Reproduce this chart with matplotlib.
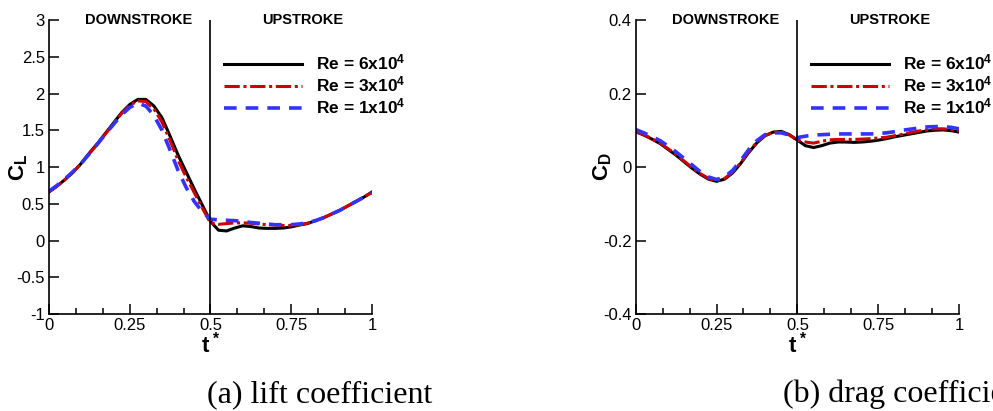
import matplotlib
matplotlib.use('Agg')
import matplotlib.pyplot as plt
import numpy as np
from matplotlib.ticker import MultipleLocator

plt.rcParams['font.family'] = ['Liberation Sans', 'DejaVu Sans']
plt.rcParams['mathtext.fontset'] = 'custom'
plt.rcParams['mathtext.rm'] = 'Liberation Sans:bold'
plt.rcParams['mathtext.it'] = 'Liberation Sans:bold'
plt.rcParams['mathtext.bf'] = 'Liberation Sans:bold'

# t* samples (fraction of the flapping cycle)
t = np.arange(41) * 0.025

# lift coefficient
cl_re6 = [0.66, 0.74, 0.83, 0.93, 1.05, 1.19, 1.32, 1.46, 1.60, 1.74,
          1.85, 1.92, 1.92, 1.83, 1.67, 1.42, 1.16, 0.93, 0.70, 0.48,
          0.26, 0.14, 0.13, 0.17, 0.20, 0.19, 0.17, 0.165, 0.165, 0.17,
          0.185, 0.21, 0.23, 0.27, 0.31, 0.36, 0.41, 0.47, 0.53, 0.59, 0.66]
cl_re3 = [0.66, 0.74, 0.83, 0.93, 1.05, 1.18, 1.31, 1.45, 1.59, 1.73,
          1.84, 1.90, 1.89, 1.79, 1.61, 1.36, 1.09, 0.86, 0.65, 0.44,
          0.24, 0.22, 0.23, 0.24, 0.24, 0.235, 0.225, 0.215, 0.21, 0.205,
          0.205, 0.215, 0.235, 0.27, 0.31, 0.36, 0.41, 0.47, 0.53, 0.59, 0.655]
cl_re1 = [0.67, 0.75, 0.84, 0.94, 1.05, 1.18, 1.31, 1.45, 1.58, 1.71,
          1.81, 1.87, 1.83, 1.70, 1.50, 1.23, 0.95, 0.72, 0.53, 0.39,
          0.29, 0.28, 0.275, 0.27, 0.26, 0.245, 0.235, 0.225, 0.215, 0.215,
          0.215, 0.225, 0.24, 0.27, 0.31, 0.36, 0.41, 0.47, 0.53, 0.59, 0.65]

# drag coefficient
cd_re6 = [0.096, 0.087, 0.076, 0.064, 0.048, 0.032, 0.014, -0.004, -0.020, -0.033,
          -0.039, -0.033, -0.016, 0.010, 0.040, 0.066, 0.085, 0.095, 0.097, 0.088,
          0.073, 0.058, 0.053, 0.058, 0.065, 0.068, 0.068, 0.067, 0.068, 0.070,
          0.073, 0.077, 0.082, 0.086, 0.090, 0.094, 0.098, 0.100, 0.101, 0.099, 0.095]
cd_re3 = [0.097, 0.088, 0.077, 0.065, 0.050, 0.034, 0.016, -0.002, -0.018, -0.031,
          -0.037, -0.031, -0.014, 0.012, 0.042, 0.068, 0.086, 0.094, 0.095, 0.087,
          0.073, 0.068, 0.065, 0.070, 0.074, 0.075, 0.075, 0.075, 0.076, 0.077,
          0.079, 0.081, 0.085, 0.089, 0.094, 0.098, 0.101, 0.104, 0.104, 0.102, 0.098]
cd_re1 = [0.102, 0.093, 0.083, 0.072, 0.057, 0.041, 0.023, 0.005, -0.013, -0.027,
          -0.034, -0.027, -0.009, 0.018, 0.048, 0.072, 0.088, 0.093, 0.093, 0.087,
          0.080, 0.084, 0.087, 0.088, 0.089, 0.090, 0.090, 0.090, 0.090, 0.090,
          0.091, 0.093, 0.096, 0.100, 0.103, 0.106, 0.109, 0.110, 0.110, 0.108, 0.104]

labels = [r'Re = 6x10$^4$', r'Re = 3x10$^4$', r'Re = 1x10$^4$']
colors = ['black', '#d00000', '#3333ff']
styles = ['-', (0, (5, 1.2, 1, 1.2)), (0, (3.5, 2.5))]
widths = [2.2, 2.2, 2.6]

fig = plt.figure(figsize=(9.93, 4.11), dpi=100)
ax1 = fig.add_axes([0.0493, 0.236, 0.3253, 0.7153])
ax2 = fig.add_axes([0.6402, 0.236, 0.3256, 0.7153])


def setup(ax, series, ylim, ystep, ylabel, ylab_x):
    for y, c, ls, lw, lab in zip(series, colors, styles, widths, labels):
        ax.plot(t, y, color=c, ls=ls, lw=lw, label=lab)
    ax.axvline(0.5, color='black', lw=1.2)
    ax.set_xlim(0, 1)
    ax.set_ylim(*ylim)
    ax.spines['top'].set_visible(False)
    ax.spines['right'].set_visible(False)
    ax.spines['left'].set_linewidth(1.2)
    ax.spines['bottom'].set_linewidth(1.2)
    ax.xaxis.set_major_locator(MultipleLocator(0.25))
    ax.xaxis.set_minor_locator(MultipleLocator(1 / 12))
    ax.yaxis.set_major_locator(MultipleLocator(ystep))
    ax.set_xticks([0, 0.25, 0.5, 0.75, 1])
    ax.set_xticklabels(['0', '0.25', '0.5', '0.75', '1'])
    ax.tick_params(which='both', direction='in', top=False, right=False,
                   labelsize=12, width=1.1)
    ax.tick_params(which='major', length=7, pad=3)
    ax.tick_params(which='minor', length=4)
    ax.set_xlabel(r'$t^*$', fontsize=16)
    ax.xaxis.set_label_coords(0.5, -0.06)
    ax.set_ylabel(ylabel, fontsize=16)
    ax.yaxis.set_label_coords(ylab_x, 0.5)
    ax.text(0.278, 1.0, 'DOWNSTROKE', transform=ax.transAxes, ha='center',
            va='center', fontsize=10.5, fontweight='bold')
    ax.text(0.784, 1.0, 'UPSTROKE', transform=ax.transAxes, ha='center',
            va='center', fontsize=10.5, fontweight='bold')
    ax.legend(loc='upper left', bbox_to_anchor=(0.543, 0.888), frameon=False,
              prop={'size': 12.5, 'weight': 'bold'}, handlelength=4.5,
              handletextpad=0.8, labelspacing=0.12, borderpad=0,
              borderaxespad=0)


setup(ax1, [cl_re6, cl_re3, cl_re1], (-1, 3), 0.5, r'$C_L$', -0.06)
ax1.set_yticks(np.arange(-1, 3.01, 0.5))
ax1.set_yticklabels(['-1', '-0.5', '0', '0.5', '1', '1.5', '2', '2.5', '3'])
setup(ax2, [cd_re6, cd_re3, cd_re1], (-0.4, 0.4), 0.2, r'$C_D$', -0.066)
ax2.set_yticks([-0.4, -0.2, 0, 0.2, 0.4])
ax2.set_yticklabels(['-0.4', '-0.2', '0', '0.2', '0.4'])

fig.text(0.322, 0.022, '(a) lift coefficient', ha='center', va='baseline',
         fontsize=23, family='Liberation Serif')
fig.text(0.7885, 0.022, '(b) drag coefficient', ha='left', va='baseline',
         fontsize=23, family='Liberation Serif')

fig.savefig('out.png', dpi=100)
